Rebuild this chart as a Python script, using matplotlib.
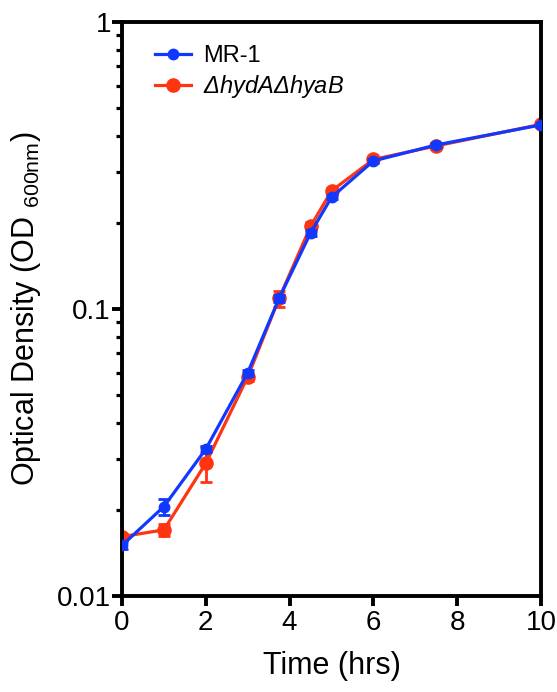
import matplotlib
matplotlib.use("Agg")
import matplotlib.pyplot as plt
from matplotlib.lines import Line2D
from matplotlib.ticker import LogLocator, NullFormatter

plt.rcParams['font.family'] = ['Liberation Sans', 'DejaVu Sans']
plt.rcParams['mathtext.default'] = 'regular'

time = [0, 1, 2, 3, 3.75, 4.5, 5, 6, 7.5, 10]
mr1 = [0.0150, 0.0205, 0.0325, 0.060, 0.109, 0.184, 0.245, 0.328, 0.373, 0.438]
mr1_err = [0.0004, 0.0013, 0.0008, 0.0015, 0.003, 0.004, 0.004, 0.005, 0.005, 0.006]
mut = [0.0161, 0.0170, 0.0290, 0.058, 0.109, 0.194, 0.258, 0.332, 0.370, 0.440]
mut_err = [0.0004, 0.0008, 0.0040, 0.0020, 0.007, 0.007, 0.006, 0.006, 0.006, 0.006]

blue = '#1038FF'
red = '#FF3410'

fig = plt.figure(figsize=(5.57, 6.92), dpi=100)
ax = fig.add_axes([122/557, 1-596/692, (541-122)/557, (596-22)/692])

ax.errorbar(time, mut, yerr=mut_err, color=red, marker='o', markersize=9.5, lw=2.3,
            elinewidth=2, capsize=4, capthick=2, zorder=2)
ax.errorbar(time, mr1, yerr=mr1_err, color=blue, marker='o', markersize=7.5, lw=2.3,
            elinewidth=2, capsize=4, capthick=2, zorder=3)

ax.set_yscale('log')
ax.set_ylim(0.01, 1)
ax.set_xlim(0, 10)
ax.set_xticks([0, 2, 4, 6, 8, 10])
ax.set_yticks([0.01, 0.1, 1])
ax.set_yticklabels(['0.01', '0.1', '1'])
ax.yaxis.set_minor_locator(LogLocator(base=10, subs=range(2, 10)))
ax.yaxis.set_minor_formatter(NullFormatter())

for s in ax.spines.values():
    s.set_linewidth(2.8)
ax.tick_params(axis='both', which='major', length=7, width=2.8, labelsize=20, direction='out')
ax.tick_params(axis='y', which='minor', length=4.5, width=2.3, direction='out')
ax.tick_params(axis='x', which='major', pad=3)
ax.tick_params(axis='y', which='major', pad=1)

ax.set_xlabel('Time (hrs)', fontsize=22, labelpad=11)
ax.set_ylabel(r'Optical Density (OD $_{600nm}$)', fontsize=22, labelpad=10)

handles = [Line2D([], [], color=blue, marker='o', markersize=7.5, lw=2.3),
           Line2D([], [], color=red, marker='o', markersize=9.5, lw=2.3)]
labels = ['MR-1', r'$\Delta$hydA$\Delta$hyaB']
leg = ax.legend(handles, labels, loc='upper left', frameon=False, fontsize=17,
                bbox_to_anchor=(0.027, 0.997), handlelength=1.55, handletextpad=0.5,
                labelspacing=0.25)
leg.get_texts()[1].set_fontstyle('italic')

fig.savefig('out.png', dpi=100)
